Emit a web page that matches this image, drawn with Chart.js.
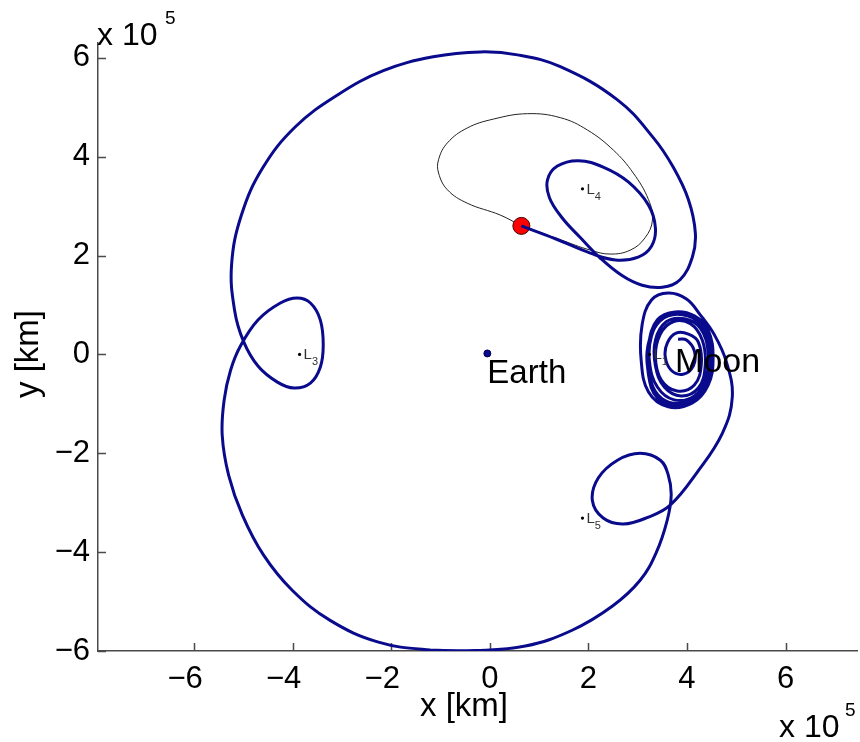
<!DOCTYPE html>
<html>
<head>
<meta charset="utf-8">
<script src="https://cdn.jsdelivr.net/npm/chart.js@4.4.1/dist/chart.umd.min.js"></script>
<style>
  html, body { margin: 0; padding: 0; background: #fff; }
</style>
</head>
<body>
<canvas id="graficoTrajetoria" width="860" height="742"></canvas>
<script>
// ========================================
// TRAJETÓRIA TERRA-LUA (referencial girante)
// Valores em unidades de 10^5 km
// ========================================

// Órbita inicial (linha preta fina), fecha no ponto de partida
const orbitaInicial = [
  [0.64, 2.60], [0.21, 2.82], [-0.46, 3.06], [-0.86, 3.33], [-1.04, 3.67], [-1.04, 3.94],
  [-0.86, 4.28], [-0.46, 4.58], [0.07, 4.76], [0.76, 4.87], [1.43, 4.79], [1.98, 4.54],
  [2.51, 4.13], [2.91, 3.67], [3.22, 3.13], [3.30, 2.72], [3.15, 2.36], [2.85, 2.11],
  [2.44, 2.03], [2.04, 2.11], [1.43, 2.32], [1.02, 2.47], [0.64, 2.60],
]

// Trajetória de transferência (linha azul), em trechos na ordem do percurso
const trechoL4 = [
  [0.64, 2.60], [1.33, 2.34], [2.04, 2.05], [2.55, 1.91], [3.01, 1.97], [3.28, 2.19],
  [3.36, 2.56], [3.22, 3.02], [2.81, 3.49], [2.30, 3.79], [1.80, 3.92], [1.37, 3.81],
  [1.17, 3.53], [1.21, 3.17], [1.47, 2.76], [1.84, 2.36], [2.24, 1.95], [2.69, 1.59],
  [3.09, 1.40], [3.50, 1.36],
]
const arcoSuperior = [
  [3.86, 1.51], [4.11, 1.97], [4.17, 2.46], [4.03, 3.13], [3.72, 3.79], [3.32, 4.38],
  [2.59, 5.15], [1.43, 5.82], [0.56, 6.06], [-0.19, 6.12], [-1.15, 6.02], [-2.16, 5.74],
  [-3.09, 5.25], [-3.95, 4.60], [-4.61, 3.77], [-5.04, 2.82], [-5.24, 1.81], [-5.18, 0.90],
]
const lacoL3 = [
  [-5.00, 0.27], [-4.70, -0.24], [-4.31, -0.56], [-3.97, -0.68], [-3.64, -0.58], [-3.44, -0.26],
  [-3.38, 0.19], [-3.44, 0.70], [-3.64, 1.04], [-3.91, 1.14], [-4.25, 1.04], [-4.70, 0.70],
  [-5.06, 0.17], [-5.26, -0.32],
]
const arcoInferior = [
  [-5.39, -0.92], [-5.43, -1.63], [-5.30, -2.44], [-5.02, -3.25], [-4.59, -4.06], [-4.01, -4.77],
  [-3.24, -5.38], [-2.26, -5.82], [-1.21, -5.98], [-0.29, -5.99], [0.72, -5.90], [1.67, -5.58],
  [2.49, -5.09], [3.05, -4.57], [3.38, -4.00],
]
const lacoL5 = [
  [3.60, -3.35], [3.68, -2.85], [3.62, -2.44], [3.46, -2.14], [3.05, -2.00], [2.59, -2.14],
  [2.20, -2.50], [2.08, -2.95], [2.30, -3.31], [2.71, -3.43], [3.22, -3.29], [3.66, -3.05],
  [4.21, -2.38],
]
// aproximação e voltas em torno da Lua
const capturaLua = [
  [4.72, -1.59], [4.92, -0.86], [4.80, -0.15], [4.56, 0.39], [4.27, 0.80],
  [3.99, 1.12], [3.62, 1.24], [3.28, 1.10], [3.09, 0.60], [3.07, -0.11], [3.22, -0.76],
  [3.62, -1.06], [4.11, -0.98], [4.43, -0.62], [4.53, -0.07],
  [4.43, 0.49], [4.15, 0.78], [3.76, 0.86], [3.40, 0.70], [3.22, 0.19], [3.22, -0.42],
  [3.40, -0.88], [3.80, -1.02], [4.23, -0.86], [4.45, -0.42], [4.49, 0.09],
  [4.33, 0.55], [4.01, 0.78], [3.62, 0.78], [3.34, 0.53], [3.19, 0.05], [3.26, -0.52],
  [3.50, -0.90], [3.92, -0.98], [4.29, -0.76], [4.45, -0.28], [4.41, 0.25],
  [4.21, 0.66], [3.86, 0.82], [3.50, 0.74], [3.28, 0.37], [3.24, -0.15], [3.40, -0.66],
  [3.74, -0.92], [4.15, -0.84], [4.39, -0.48], [4.43, 0.05],
  [4.27, 0.53], [3.95, 0.72], [3.58, 0.66], [3.36, 0.29], [3.36, -0.23], [3.54, -0.66],
  [3.88, -0.84], [4.23, -0.68], [4.37, -0.23], [4.31, 0.29],
  [4.07, 0.62], [3.72, 0.66], [3.46, 0.41], [3.36, -0.05], [3.48, -0.52], [3.80, -0.74],
  [4.15, -0.62], [4.29, -0.21], [4.23, 0.25],
  [4.03, 0.41], [3.78, 0.43], [3.60, 0.23], [3.56, -0.05], [3.68, -0.32], [3.92, -0.40],
  [4.13, -0.23], [4.15, 0.07], [3.99, 0.29], [3.82, 0.31],
]

// Pontos de Lagrange, Terra, Lua e posição inicial
const nomesLagrange = ['1', '3', '4', '5']
const lagrangeX = [3.24, -3.86, 1.88, 1.88]
const lagrangeY = [0, 0, 3.35, -3.31]
const terra = [-0.05, 0.02]
const lua = [3.80, 0]
const posicaoInicial = [0.64, 2.60]

// Marcas dos eixos
const ticksX = [-6, -4, -2, 0, 2, 4, 6]
const ticksY = [-6, -4, -2, 0, 2, 4, 6]

const FONTE = '"Liberation Sans", Arial, Helvetica, sans-serif'
const AZUL = '#0a0a8c'
const EIXO = '#4a4a4a'

const paraPontos = (lista) => lista.map(([x, y]) => ({ x, y }))
const trajetoria = [...trechoL4, ...arcoSuperior, ...lacoL3, ...arcoInferior, ...lacoL5, ...capturaLua]

function sinalMenos(v) {
  return v < 0 ? '\u2212' + Math.abs(v) : String(v)
}

function textoComIndice(ctx, base, indice, x, y) {
  ctx.font = `15px ${FONTE}`
  ctx.fillText(base, x, y)
  const largura = ctx.measureText(base).width
  ctx.font = `11px ${FONTE}`
  ctx.fillText(indice, x + largura, y + 6)
}

// marcas internas nos eixos (estilo "box off")
const marcasInternas = {
  id: 'marcasInternas',
  beforeDatasetsDraw(chart) {
    const { ctx, chartArea, scales } = chart
    ctx.save()
    ctx.strokeStyle = EIXO
    ctx.lineWidth = 1.5
    ctx.beginPath()
    for (const v of ticksX) {
      const px = Math.round(scales.x.getPixelForValue(v)) + 0.5
      ctx.moveTo(px, chartArea.bottom)
      ctx.lineTo(px, chartArea.bottom - 8)
    }
    for (const v of ticksY) {
      const py = Math.round(scales.y.getPixelForValue(v)) + 0.5
      ctx.moveTo(chartArea.left, py)
      ctx.lineTo(chartArea.left + 8, py)
    }
    ctx.stroke()
    ctx.restore()
  },
}

// textos: rótulos do eixo x, nomes dos corpos, pontos L, fatores de escala
const textosGrafico = {
  id: 'textosGrafico',
  afterDatasetsDraw(chart) {
    const { ctx, chartArea, scales } = chart
    const { x: sx, y: sy } = scales
    ctx.save()
    ctx.fillStyle = '#000'

    // rótulos do eixo x: algarismo centrado na marca, sinal à esquerda
    ctx.font = `31px ${FONTE}`
    ctx.textBaseline = 'alphabetic'
    for (const v of ticksX) {
      const px = sx.getPixelForValue(v)
      const num = String(Math.abs(v))
      const w = ctx.measureText(num).width
      ctx.textAlign = 'left'
      ctx.fillText(num, px - w / 2, chartArea.bottom + 37)
      if (v < 0) {
        ctx.textAlign = 'right'
        ctx.fillText('\u2212', px - w / 2, chartArea.bottom + 37)
      }
    }

    // pontos de Lagrange
    ctx.fillStyle = '#333'
    ctx.textAlign = 'left'
    nomesLagrange.forEach((nome, i) => {
      const px = sx.getPixelForValue(lagrangeX[i])
      const py = sy.getPixelForValue(lagrangeY[i])
      textoComIndice(ctx, 'L', nome, px + 4, py + 5)
    })

    // Terra e Lua
    ctx.fillStyle = '#000'
    ctx.font = `33px ${FONTE}`
    ctx.fillText('Earth', sx.getPixelForValue(terra[0]), sy.getPixelForValue(terra[1]) + 30)
    ctx.font = `34px ${FONTE}`
    ctx.fillText('Moon', sx.getPixelForValue(lua[0]) - 2, sy.getPixelForValue(lua[1]) + 18)

    // títulos dos eixos
    ctx.font = `33px ${FONTE}`
    ctx.textAlign = 'center'
    ctx.textBaseline = 'middle'
    ctx.fillText('x [km]', 464, 707)
    ctx.save()
    ctx.translate(29, 354)
    ctx.rotate(-Math.PI / 2)
    ctx.fillText('y [km]', 0, 0)
    ctx.restore()

    // fatores de escala x 10^5
    ctx.textAlign = 'left'
    ctx.textBaseline = 'alphabetic'
    ctx.font = `32px ${FONTE}`
    ctx.fillText('x 10', 97, 45)
    ctx.fillText('x 10', 779, 737)
    ctx.font = `19px ${FONTE}`
    ctx.fillText('5', 165, 24)
    ctx.fillText('5', 845, 716)
    ctx.restore()
  },
}

const ctx = document.getElementById('graficoTrajetoria').getContext('2d')

new Chart(ctx, {
  type: 'scatter',
  data: {
    datasets: [
      {
        label: 'Pontos de Lagrange',
        data: lagrangeX.map((x, i) => ({ x, y: lagrangeY[i] })),
        pointRadius: 1.6,
        pointBackgroundColor: '#000',
        pointBorderWidth: 0,
        order: 0,
      },
      {
        label: 'Terra',
        data: paraPontos([terra]),
        pointRadius: 3.5,
        pointBackgroundColor: AZUL,
        pointBorderColor: '#000050',
        pointBorderWidth: 1,
        order: 0,
      },
      {
        label: 'Trajetória',
        data: paraPontos(trajetoria),
        showLine: true,
        borderColor: AZUL,
        borderWidth: 3,
        tension: 0.4,
        pointRadius: 0,
        order: 1,
      },
      {
        label: 'Posição inicial',
        data: paraPontos([posicaoInicial]),
        pointRadius: 8.5,
        pointBackgroundColor: '#ff0000',
        pointBorderColor: '#400000',
        pointBorderWidth: 1,
        order: 2,
      },
      {
        label: 'Órbita inicial',
        data: paraPontos(orbitaInicial),
        showLine: true,
        borderColor: '#222',
        borderWidth: 1,
        tension: 0.4,
        pointRadius: 0,
        order: 3,
      },
    ],
  },
  options: {
    responsive: false,
    animation: false,
    events: [],
    layout: { autoPadding: false, padding: { top: 43, right: 3, left: 0, bottom: 0 } },
    plugins: {
      legend: { display: false },
      tooltip: { enabled: false },
    },
    scales: {
      x: {
        type: 'linear',
        min: -7.95,
        max: 7.45,
        grid: { display: false, drawTicks: false },
        border: { display: true, color: EIXO, width: 1.5 },
        ticks: { display: false },
        afterBuildTicks: (escala) => { escala.ticks = ticksX.map((value) => ({ value })) },
        afterFit: (escala) => {
          escala.height = 91
          escala.paddingLeft = 0
          escala.paddingRight = 0
        },
      },
      y: {
        type: 'linear',
        min: -6,
        max: 6.3,
        grid: { display: false, drawTicks: false },
        border: { display: true, color: EIXO, width: 1.5 },
        ticks: {
          autoSkip: false,
          padding: 8,
          color: '#000',
          font: { family: FONTE, size: 31 },
          callback: (v) => sinalMenos(v),
        },
        afterBuildTicks: (escala) => { escala.ticks = ticksY.map((value) => ({ value })) },
        afterFit: (escala) => {
          escala.width = 98
          escala.paddingTop = 0
          escala.paddingBottom = 0
        },
      },
    },
  },
  plugins: [marcasInternas, textosGrafico],
})
</script>
</body>
</html>
